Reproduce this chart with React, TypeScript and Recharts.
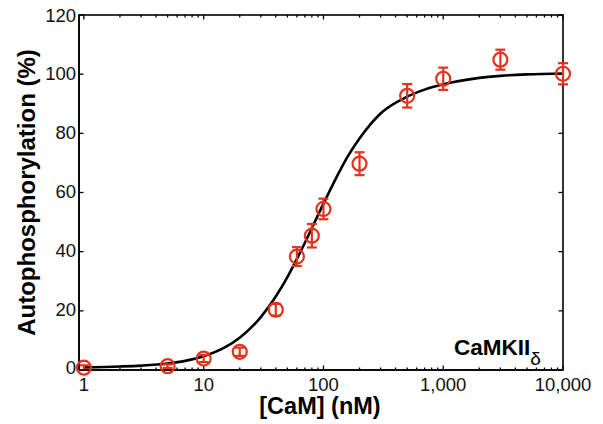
import React from "react";
import { ComposedChart, XAxis, YAxis, Line, Scatter, ErrorBar, Customized } from "recharts";

// measured points: [CaM] (nM) vs autophosphorylation (%) with error
const conc = [1, 5, 10, 20, 40, 60, 80, 100, 200, 500, 1000, 3000, 10000];
const autophos = [0, 0.5, 3.1, 5.4, 19.7, 37.8, 44.9, 54, 69.4, 92.5, 98.3, 104.8, 100];
const errs = [0.8, 0.6, 1.2, 1.4, 2, 3.2, 4, 3.5, 3.9, 4, 3.8, 3.4, 3.6];

// fitted curve
const fitConc = [1, 2, 3, 5, 7, 10, 15, 20, 30, 40, 50, 60, 70, 80, 100, 130, 160, 200, 300, 500, 700, 1000, 2000, 3000, 5000, 10000];
const fitValues = [0.1, 0.4, 0.7, 1.4, 2.3, 3.9, 6.9, 10.2, 17.2, 24.2, 30.8, 37, 42.5, 47.5, 55.8, 65.2, 72, 78, 86.5, 92.2, 94.6, 96.4, 98.6, 99.3, 99.8, 100.1];

const majorX = [1, 10, 100, 1000, 10000];
const minorX = [2, 3, 4, 5, 6, 7, 8, 9, 20, 30, 40, 50, 60, 70, 80, 90, 200, 300, 400, 500, 600, 700, 800, 900, 2000, 3000, 4000, 5000, 6000, 7000, 8000, 9000];
const xTicks = [...majorX, ...minorX].sort((a, b) => a - b);
const yTicks = [0, 20, 40, 60, 80, 100, 120];

const X_MIN = 0.91;
const X_MAX = 10000;
const Y_MAX = 120;

const points = conc.map((c, i) => ({ x: c, y: autophos[i], err: errs[i] }));
const curve = fitConc.map((c, i) => ({ x: c, y: fitValues[i] }));

const RED = "#E2341D";
const FONT = "'Liberation Sans', Arial, sans-serif";

// plot box, follows the chart margins and axis sizes below
const W = 603;
const H = 424;
const MARGIN = { top: 15, right: 40, bottom: 0, left: 0 };
const X_AXIS_H = 54;
const Y_AXIS_W = 79;
const BOX = {
  left: MARGIN.left + Y_AXIS_W,
  top: MARGIN.top,
  right: W - MARGIN.right,
  bottom: H - MARGIN.bottom - X_AXIS_H,
};

const fmt = (v: number) => v.toLocaleString("en-US");

function BottomTick(props: any) {
  const { x, y, payload } = props;
  if (!majorX.includes(payload.value)) return <g />;
  return (
    <text x={x} y={y + 21} textAnchor="middle" fontSize={18.5} fontFamily={FONT} fill="#111">
      {fmt(payload.value)}
    </text>
  );
}

function LeftTick(props: any) {
  const { x, y, payload } = props;
  return (
    <text x={x - 3} y={y} dy="0.36em" textAnchor="end" fontSize={18.5} fontFamily={FONT} fill="#111">
      {payload.value}
    </text>
  );
}

function Ring(props: any) {
  const { cx, cy } = props;
  return <circle cx={cx} cy={cy} r={7} fill="none" stroke={RED} strokeWidth={2.2} />;
}

// box frame with inward ticks on all four sides
function Frame() {
  const lx0 = Math.log10(X_MIN);
  const lx1 = Math.log10(X_MAX);
  const px = (v: number) => BOX.left + ((Math.log10(v) - lx0) / (lx1 - lx0)) * (BOX.right - BOX.left);
  const py = (v: number) => BOX.bottom - (v / Y_MAX) * (BOX.bottom - BOX.top);
  return (
    <g stroke="#000" strokeWidth={1.3}>
      <rect
        x={BOX.left}
        y={BOX.top}
        width={BOX.right - BOX.left}
        height={BOX.bottom - BOX.top}
        fill="none"
        strokeWidth={1.6}
      />
      {xTicks.map((v) => {
        const len = majorX.includes(v) ? 4.5 : 2.5;
        const x = px(v);
        return (
          <g key={`x${v}`}>
            <line x1={x} x2={x} y1={BOX.bottom} y2={BOX.bottom - len} />
            <line x1={x} x2={x} y1={BOX.top} y2={BOX.top + len} />
          </g>
        );
      })}
      {yTicks.map((v) => {
        const y = py(v);
        return (
          <g key={`y${v}`}>
            <line x1={BOX.left} x2={BOX.left + 4.5} y1={y} y2={y} />
            <line x1={BOX.right} x2={BOX.right - 4.5} y1={y} y2={y} />
          </g>
        );
      })}
    </g>
  );
}

function Titles() {
  return (
    <g fontFamily={FONT} fill="#000">
      <text x={35} y={192.5} transform="rotate(-90, 35, 192.5)" textAnchor="middle" fontSize={24} fontWeight="bold">
        Autophosphorylation (%)
      </text>
      <text x={320} y={414} textAnchor="middle" fontSize={23.5} fontWeight="bold">
        [CaM] (nM)
      </text>
      <text x={454} y={355} fontSize={22.5} fontWeight="bold">
        CaMKII
        <tspan dy={10} fontSize={19} fontWeight="normal">δ</tspan>
      </text>
    </g>
  );
}

export default function App() {
  return (
    <div style={{ position: "absolute", left: 0, top: 0, background: "#fff" }}>
      <ComposedChart width={W} height={H} margin={MARGIN}>
        <XAxis
          dataKey="x"
          type="number"
          scale="log"
          domain={[X_MIN, X_MAX]}
          ticks={xTicks}
          interval={0}
          tick={<BottomTick />}
          tickLine={false}
          tickSize={0}
          tickMargin={0}
          height={X_AXIS_H}
          axisLine={{ stroke: "#000", strokeWidth: 1.6 }}
        />
        <YAxis
          type="number"
          domain={[0, Y_MAX]}
          ticks={yTicks}
          interval={0}
          tick={<LeftTick />}
          tickLine={false}
          tickSize={0}
          tickMargin={0}
          width={Y_AXIS_W}
          axisLine={{ stroke: "#000", strokeWidth: 1.6 }}
        />
        <Customized component={Frame} />
        <Line
          data={curve}
          dataKey="y"
          type="monotone"
          stroke="#000"
          strokeWidth={2.6}
          dot={false}
          activeDot={false}
          isAnimationActive={false}
        />
        <Scatter data={points} dataKey="y" shape={<Ring />} isAnimationActive={false}>
          <ErrorBar dataKey="err" direction="y" width={5} stroke={RED} strokeWidth={2.2} />
        </Scatter>
        <Customized component={Titles} />
      </ComposedChart>
    </div>
  );
}
